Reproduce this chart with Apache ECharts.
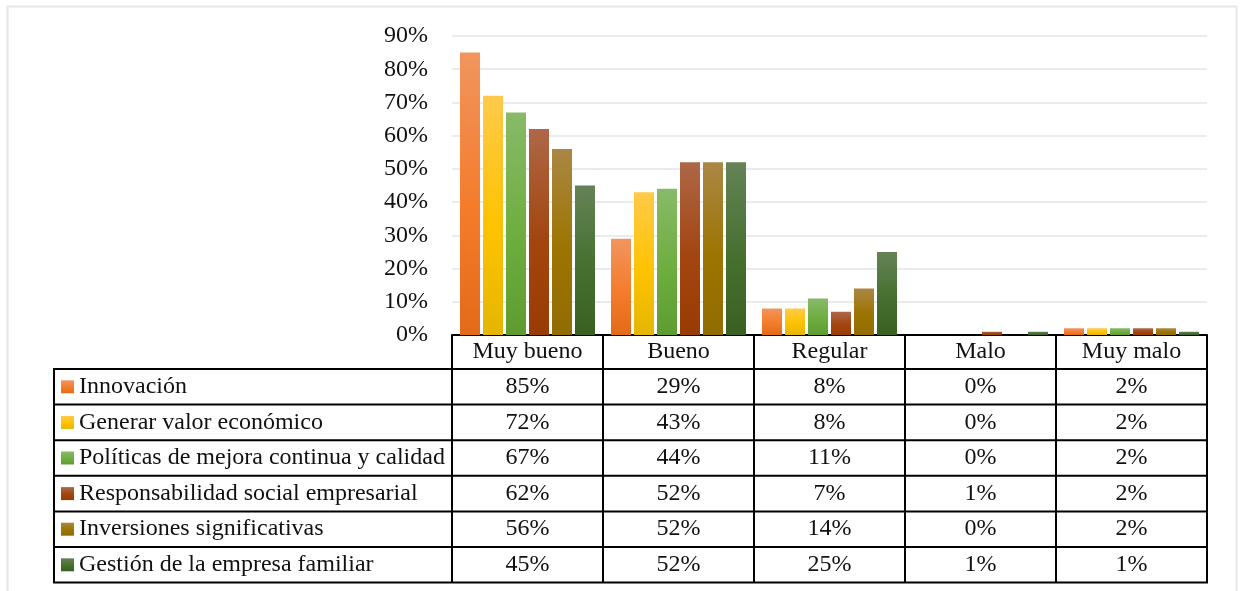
<!DOCTYPE html>
<html>
<head>
<meta charset="utf-8">
<script src="https://cdn.jsdelivr.net/npm/echarts@6/dist/echarts.min.js"></script>
<style>
  html, body { margin: 0; padding: 0; background: #fff; }
  #chart { width: 1242px; height: 591px; }
</style>
</head>
<body>
<div id="chart"></div>
<script>
// Ratings categories and the percentage each area received
const categories = ['Muy bueno', 'Bueno', 'Regular', 'Malo', 'Muy malo'];
const seriesNames = [
  'Innovación',
  'Generar valor económico',
  'Políticas de mejora continua y calidad',
  'Responsabilidad social empresarial',
  'Inversiones significativas',
  'Gestión de la empresa familiar'
];
const innovacion      = [85, 29, 8, 0, 2];
const valorEconomico  = [72, 43, 8, 0, 2];
const politicasMejora = [67, 44, 11, 0, 2];
const responsabilidad = [62, 52, 7, 1, 2];
const inversiones     = [56, 52, 14, 0, 2];
const gestionFamiliar = [45, 52, 25, 1, 1];
const yTicks = [0, 10, 20, 30, 40, 50, 60, 70, 80, 90];

const seriesValues = [innovacion, valorEconomico, politicasMejora, responsabilidad, inversiones, gestionFamiliar];

// Top / middle / bottom shades for each series' vertical gradient
const shades = [
  ['#F1955F', '#F47C2B', '#E36A18'],
  ['#FFCA4A', '#FFC300', '#E4B600'],
  ['#88BA68', '#6DAE3F', '#5E9C32'],
  ['#AE6748', '#A2450E', '#983C04'],
  ['#AA8745', '#9C7400', '#916C00'],
  ['#658257', '#46702F', '#3A6021']
];

const FONT = '"Liberation Serif", "Times New Roman", serif';
const FS = 24;
const TEXT = '#111';
const GRID = { left: 452, right: 35, top: 36, bottom: 256 };
const TABLE = { left: 54, headerTop: 335, rowTop: 369, rowH: 35.6 };

function grad(c) {
  return new echarts.graphic.LinearGradient(0, 0, 0, 1, [
    { offset: 0, color: c[0] },
    { offset: 0.55, color: c[1] },
    { offset: 1, color: c[2] }
  ]);
}

const chart = echarts.init(document.getElementById('chart'), null, { renderer: 'canvas' });

chart.setOption({
  animation: false,
  backgroundColor: '#fff',
  grid: GRID,
  xAxis: {
    type: 'category',
    data: categories,
    axisLine: { lineStyle: { color: '#000', width: 2 } },
    axisTick: { show: false },
    axisLabel: {
      color: TEXT, fontFamily: FONT, fontSize: FS,
      margin: 17, verticalAlign: 'middle', interval: 0
    }
  },
  yAxis: {
    type: 'value',
    min: yTicks[0],
    max: yTicks[yTicks.length - 1],
    interval: yTicks[1] - yTicks[0],
    axisLine: { show: false },
    axisTick: { show: false },
    axisLabel: { color: TEXT, fontFamily: FONT, fontSize: FS, margin: 24, formatter: '{value}%' },
    splitLine: { lineStyle: { color: '#E1E5EA', width: 1.6 } }
  },
  series: seriesNames.map((name, i) => ({
    name: name,
    type: 'bar',
    data: seriesValues[i],
    barWidth: 20,
    barGap: '15%',
    itemStyle: { color: grad(shades[i]) }
  }))
});

// Data table under the plot: header box, legend column and value cells
const graphics = [];
const line = (x1, y1, x2, y2, w) => graphics.push({
  type: 'line', silent: true, z: 10,
  shape: { x1, y1, x2, y2 },
  style: { stroke: '#000', lineWidth: w || 2 }
});

// outer light frame
graphics.push({
  type: 'rect', silent: true, z: 0,
  shape: { x: 7.5, y: 6.5, width: 1229, height: 620 },
  style: { fill: 'none', stroke: '#E3E6EA', lineWidth: 2 }
});

const nRows = seriesNames.length;
const tableBottom = TABLE.rowTop + TABLE.rowH * nRows;

// column boundaries from the category axis
const colCenters = categories.map(c => chart.convertToPixel({ xAxisIndex: 0 }, c));
const colW = colCenters.length > 1 ? colCenters[1] - colCenters[0] : 151;
const bounds = [colCenters[0] - colW / 2].concat(colCenters.map(x => x + colW / 2));

bounds.forEach(x => line(x, TABLE.headerTop, x, tableBottom));
line(TABLE.left, TABLE.rowTop, TABLE.left, tableBottom);
for (let r = 0; r <= nRows; r++) {
  const y = TABLE.rowTop + r * TABLE.rowH;
  line(TABLE.left - 1, y, bounds[bounds.length - 1] + 1, y);
}

seriesNames.forEach((name, r) => {
  const cy = TABLE.rowTop + r * TABLE.rowH + TABLE.rowH / 2;
  graphics.push({
    type: 'rect', silent: true, z: 11,
    shape: { x: 61, y: cy - 6.5, width: 13, height: 13 },
    style: { fill: grad(shades[r]) }
  });
  graphics.push({
    type: 'text', silent: true, z: 11,
    x: 79, y: cy,
    style: { text: name, fill: TEXT, font: FS + 'px ' + FONT, align: 'left', verticalAlign: 'middle' }
  });
  seriesValues[r].forEach((v, c) => {
    graphics.push({
      type: 'text', silent: true, z: 11,
      x: colCenters[c], y: cy,
      style: { text: v + '%', fill: TEXT, font: FS + 'px ' + FONT, align: 'center', verticalAlign: 'middle' }
    });
  });
});

chart.setOption({ graphic: graphics });
</script>
</body>
</html>
